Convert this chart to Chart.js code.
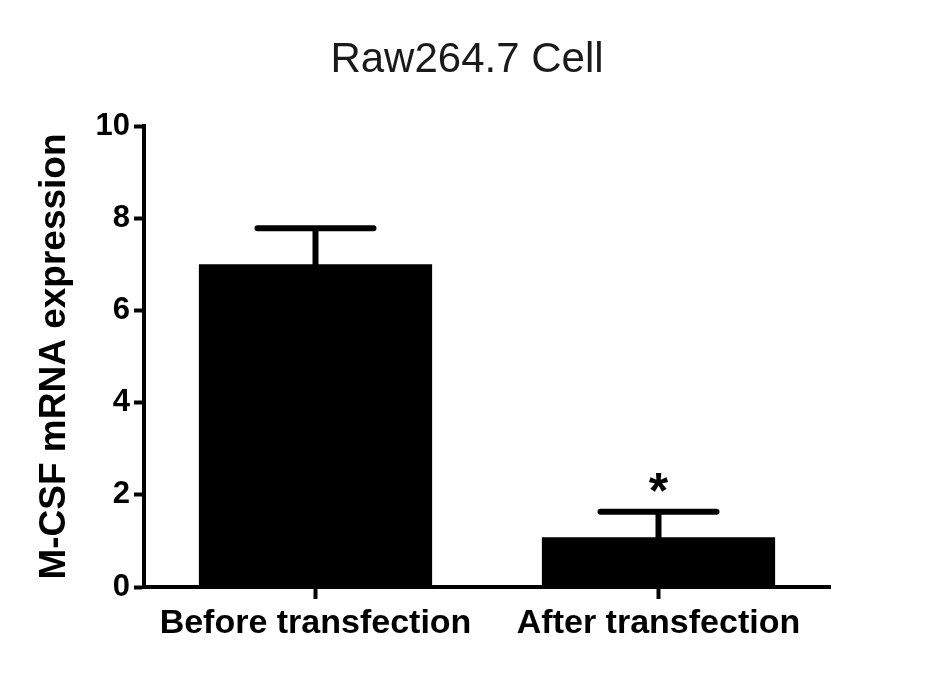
<!DOCTYPE html>
<html>
<head>
<meta charset="utf-8">
<script src="https://cdn.jsdelivr.net/npm/chart.js@4/dist/chart.umd.min.js"></script>
<style>
  html, body { margin: 0; padding: 0; background: #fff; }
  #wrap { width: 934px; height: 673px; }
</style>
</head>
<body>
<div id="wrap"><canvas id="chart" width="934" height="673"></canvas></div>
<script>
const groups = ["Before transfection", "After transfection"];
const means = [7.0, 1.08];
const errors = [0.78, 0.55];
const marks = ["", "*"];
const yTicks = [0, 2, 4, 6, 8, 10];

const fontFamily = "'Liberation Sans', Arial, sans-serif";

// error bars + significance stars, positioned through the scales
const errorBars = {
  id: "errorBars",
  afterDatasetsDraw(chart) {
    const { ctx, scales } = chart;
    ctx.save();
    ctx.strokeStyle = "#000";
    ctx.lineWidth = 6;
    ctx.lineCap = "round";
    means.forEach((mean, i) => {
      const x = scales.x.getPixelForValue(i);
      const yMean = scales.y.getPixelForValue(mean);
      const yTop = scales.y.getPixelForValue(mean + errors[i]);
      ctx.beginPath();
      ctx.moveTo(x, yMean);
      ctx.lineTo(x, yTop);
      ctx.moveTo(x - 58, yTop);
      ctx.lineTo(x + 58, yTop);
      ctx.stroke();
      if (marks[i]) {
        ctx.fillStyle = "#000";
        ctx.font = "bold 50px " + fontFamily;
        ctx.textAlign = "center";
        ctx.textBaseline = "middle";
        ctx.fillText(marks[i], x, yTop - 18);
      }
    });
    ctx.restore();
  },
};

// title centred on the whole canvas
const centerTitle = {
  id: "centerTitle",
  afterDraw(chart) {
    const { ctx } = chart;
    ctx.save();
    ctx.fillStyle = "#1a1a1a";
    ctx.font = "42px " + fontFamily;
    ctx.textAlign = "center";
    ctx.textBaseline = "middle";
    ctx.fillText("Raw264.7 Cell", chart.width / 2, 60);
    ctx.restore();
  },
};

new Chart(document.getElementById("chart"), {
  type: "bar",
  data: {
    labels: groups,
    datasets: [
      {
        data: means,
        backgroundColor: "#000",
        borderWidth: 0,
        barPercentage: 0.68,
        categoryPercentage: 1,
      },
    ],
  },
  plugins: [errorBars, centerTitle],
  options: {
    responsive: false,
    animation: false,
    layout: {
      padding: { top: 126, right: 104, bottom: 0, left: 0 },
    },
    plugins: {
      legend: { display: false },
      tooltip: { enabled: false },
      title: { display: false },
    },
    scales: {
      x: {
        afterFit: (scale) => {
          scale.height = 86;
        },
        grid: {
          offset: false,
          drawOnChartArea: false,
          drawTicks: true,
          tickLength: 12,
          tickWidth: 4,
          tickColor: "#000",
        },
        border: { color: "#000", width: 4 },
        ticks: {
          color: "#000",
          padding: 4,
          font: { family: fontFamily, size: 34, weight: "bold" },
        },
      },
      y: {
        min: 0,
        max: 10,
        afterFit: (scale) => {
          scale.width = 144;
        },
        afterBuildTicks: (scale) => {
          scale.ticks = yTicks.map((value) => ({ value }));
        },
        grid: {
          drawOnChartArea: false,
          drawTicks: true,
          tickLength: 10,
          tickWidth: 4,
          tickColor: "#000",
        },
        border: { color: "#000", width: 4 },
        ticks: {
          color: "#000",
          padding: 4,
          font: { family: fontFamily, size: 31, weight: "bold" },
        },
        title: {
          display: true,
          text: "M-CSF mRNA expression",
          color: "#000",
          padding: { top: 33, bottom: 0 },
          font: { family: fontFamily, size: 37, weight: "bold" },
        },
      },
    },
  },
});
</script>
</body>
</html>
